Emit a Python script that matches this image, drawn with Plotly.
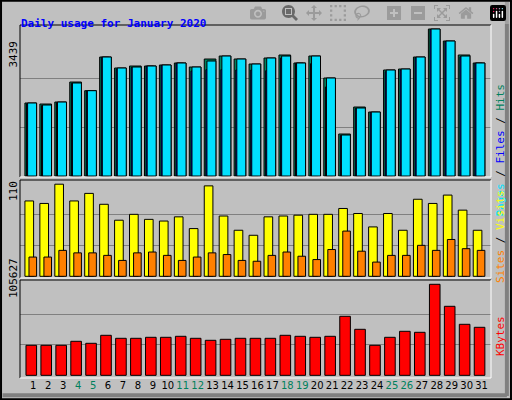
import plotly.graph_objects as go

days = list(range(1, 32))
weekend = [4, 5, 11, 12, 18, 19, 25, 26]

hits = [1708, 1684, 1731, 2199, 1996, 2784, 2527, 2573, 2573, 2597, 2644, 2550, 2737, 2807, 2737, 2620,
        2761, 2831, 2644, 2807, 2293, 983, 1614, 1497, 2480, 2503, 2784, 3439, 3158, 2831, 2644]
files = [1708, 1661, 1731, 2176, 1996, 2784, 2527, 2550, 2573, 2597, 2644, 2550, 2690, 2807, 2737, 2620,
         2761, 2807, 2644, 2807, 2293, 959, 1591, 1497, 2480, 2503, 2784, 3439, 3158, 2807, 2644]
pages = [1690, 1650, 1720, 2170, 1990, 2780, 2500, 2540, 2570, 2590, 2640, 2456, 2488, 2488, 2480, 2480,
         2464, 2760, 2640, 2628, 2082, 950, 1580, 1490, 2440, 2480, 2770, 3430, 3150, 2790, 2640]
visits = [90, 87, 110, 90, 99, 86, 67, 74, 68, 66, 71, 57, 108, 72, 55, 49,
          71, 72, 73, 74, 74, 81, 75, 59, 75, 55, 92, 87, 97, 79, 55]
sites = [23, 23, 31, 28, 28, 25, 19, 28, 29, 25, 19, 23, 28, 26, 19, 18,
         25, 29, 24, 20, 32, 54, 30, 17, 25, 25, 37, 31, 44, 33, 31]
kbytes = [34822, 34822, 34822, 39465, 37143, 46429, 42946, 42946, 44107, 44107, 45268, 42946, 40625, 41786,
          42946, 42946, 42946, 46429, 45268, 44107, 45268, 68482, 53393, 34822, 44107, 51071, 49911, 105627,
          80088, 59196, 55714]

tick_text = [f"<span style='color:#00805c'>{d}</span>" if d in weekend else str(d) for d in days]

fig = go.Figure()
line = dict(color="black", width=1)

def bar(y, color, offset, width, axis):
    return go.Bar(x=days, y=y, marker=dict(color=color, line=line), offset=offset, width=width,
                  xaxis="x" + axis, yaxis="y" + axis, hoverinfo="y")

fig.add_trace(bar(hits, "#00805c", -0.56, 0.78, "3"))
fig.add_trace(bar(pages, "#0000ff", -0.45, 0.5, "3"))
fig.add_trace(bar(files, "#00e0ff", -0.38, 0.6, "3"))
fig.add_trace(bar(visits, "#ffff00", -0.56, 0.58, "2"))
fig.add_trace(bar(sites, "#ff8000", -0.29, 0.51, "2"))
fig.add_trace(bar(kbytes, "#ff0000", -0.49, 0.71, ""))

xr = [0.11, 31.63]
grid = dict(showgrid=True, gridcolor="#808080", gridwidth=1, zeroline=False, showticklabels=False, ticks="")
xdom = [20 / 512, 491 / 512]
fig.update_layout(
    width=512, height=400, margin=dict(l=0, r=0, t=0, b=0),
    paper_bgcolor="#c0c0c0", plot_bgcolor="#c0c0c0", barmode="overlay", showlegend=False,
    font=dict(family="DejaVu Sans Mono", size=11, color="black"),
    xaxis=dict(domain=xdom, range=xr, tickvals=days, ticktext=tick_text, showgrid=False, tickangle=0,
               zeroline=False, ticks="", tickfont=dict(size=10, family="DejaVu Sans")),
    yaxis=dict(domain=[0.055, 0.30], range=[-3100, 110600], tickvals=[35209, 70418], **grid),
    xaxis2=dict(domain=xdom, range=xr, anchor="y2", showticklabels=False, showgrid=False, zeroline=False),
    yaxis2=dict(domain=[0.305, 0.55], range=[-2, 115], anchor="x2", tickvals=[36.7, 73.3], **grid),
    xaxis3=dict(domain=xdom, range=xr, anchor="y3", showticklabels=False, showgrid=False, zeroline=False),
    yaxis3=dict(domain=[0.5575, 0.9375], range=[-23, 3533], anchor="x3", tickvals=[1146, 2293], **grid),
)

# panel borders: dark top/left, white bottom/right
for y0, y1 in [(0.055, 0.30), (0.305, 0.55), (0.5575, 0.9375)]:
    fig.add_shape(type="line", xref="paper", yref="paper", x0=xdom[0], x1=xdom[1], y0=y1, y1=y1, line=line)
    fig.add_shape(type="line", xref="paper", yref="paper", x0=xdom[0], x1=xdom[0], y0=y0, y1=y1, line=line)
    fig.add_shape(type="line", xref="paper", yref="paper", x0=xdom[0], x1=xdom[1], y0=y0, y1=y0,
                  line=dict(color="white", width=1))
    fig.add_shape(type="line", xref="paper", yref="paper", x0=xdom[1], x1=xdom[1], y0=y0, y1=y1,
                  line=dict(color="white", width=1))

# outer bevel
fig.add_shape(type="rect", xref="paper", yref="paper", x0=0.002, x1=0.998, y0=0.002, y1=0.998,
              line=dict(color="black", width=2))
fig.add_shape(type="line", xref="paper", yref="paper", x0=0.99, x1=0.99, y0=0.01, y1=0.995,
              line=dict(color="#808080", width=4))
fig.add_shape(type="line", xref="paper", yref="paper", x0=0.005, x1=0.99, y0=0.012, y1=0.012,
              line=dict(color="#808080", width=4))

def ann(text, x, y, angle=0, size=11, xanchor="center"):
    fig.add_annotation(text=text, x=x / 512, y=1 - y / 400, xref="paper", yref="paper", showarrow=False,
                       textangle=angle, font=dict(size=size), xanchor=xanchor)

ann("<b><span style='color:#0000ff'>Daily usage for January 2020</span></b>", 19, 15, xanchor="left", size=11)
ann("3439", 13, 39, -90)
ann("110", 13, 191, -90)
ann("105627", 13, 300, -90)
ann("<span style='color:#00e0ff'>Pages</span> / <span style='color:#0000ff'>Files</span> / "
    "<span style='color:#00805c'>Hits</span>", 500, 82, -90)
ann("<span style='color:#ff8000'>Sites</span> / <span style='color:#ffff00'>Visits</span>", 500, 237, -90)
ann("<span style='color:#ff0000'>KBytes</span>", 500, 358, -90)

fig.write_html("out.html", post_script="document.body.style.margin='0';")
